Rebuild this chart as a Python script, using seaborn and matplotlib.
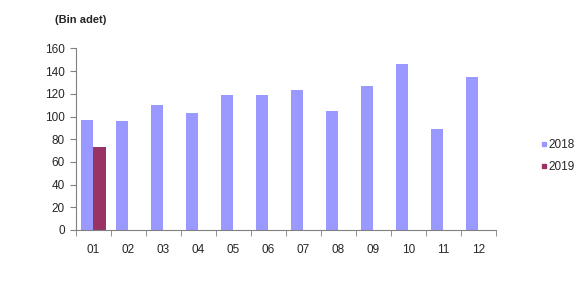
import numpy as np
import pandas as pd
import seaborn as sns
import matplotlib
matplotlib.use("Agg")
import matplotlib.pyplot as plt
from matplotlib.lines import Line2D

months = ["01", "02", "03", "04", "05", "06", "07", "08", "09", "10", "11", "12"]
values_2018 = [97, 96, 110, 103, 119, 119, 123, 105, 127, 146, 89, 135]
values_2019 = [73, np.nan, np.nan, np.nan, np.nan, np.nan, np.nan, np.nan, np.nan, np.nan, np.nan, np.nan]
series = ["2018", "2019"]
colors = ["#9999FF", "#993366"]
yticks = [0, 20, 40, 60, 80, 100, 120, 140, 160]

df = pd.DataFrame({
    "month": months * 2,
    "value": values_2018 + values_2019,
    "year": [series[0]] * 12 + [series[1]] * 12,
})

sns.set_style("white")
plt.rcParams["font.family"] = ["Liberation Sans", "DejaVu Sans"]

fig = plt.figure(figsize=(5.86, 2.91), dpi=100)
ax = fig.add_axes([76 / 586, 61 / 291, 420 / 586, 181.5 / 291])

sns.barplot(data=df, x="month", y="value", hue="year", order=months,
            hue_order=series, palette=colors, width=0.74, gap=0,
            saturation=1, ax=ax, legend=False, errorbar=None, linewidth=0)

ax.set_xlim(-0.5, 11.5)
ax.set_ylim(0, 160)
ax.set_yticks(yticks)
ax.set_yticklabels([str(t) for t in yticks], fontsize=8.5)
ax.set_xlabel("")
ax.set_ylabel("")
ax.tick_params(axis="x", which="major", length=0, pad=10, labelsize=8.5)
ax.set_xticks(np.arange(-0.5, 12, 1), minor=True)
ax.tick_params(axis="x", which="minor", length=4, color="#808080", direction="out", bottom=True)
ax.tick_params(axis="y", length=4, color="#808080", direction="out", left=True, pad=4)
for s in ["top", "right"]:
    ax.spines[s].set_visible(False)
for s in ["left", "bottom"]:
    ax.spines[s].set_color("#808080")
    ax.spines[s].set_linewidth(0.8)

fig.text(55 / 586, 1 - 20 / 291, "(Bin adet)", fontsize=8, fontweight="bold", va="center", ha="left")

handles = [Line2D([0], [0], marker="s", linestyle="", markersize=3.5, color=c) for c in colors]
fig.legend(handles, series, loc="center left", bbox_to_anchor=(527 / 586, 1 - 156 / 291),
           frameon=False, fontsize=8.5, handletextpad=-0.1, handlelength=1.0, labelspacing=0.8)

fig.savefig("out.png", dpi=100)
